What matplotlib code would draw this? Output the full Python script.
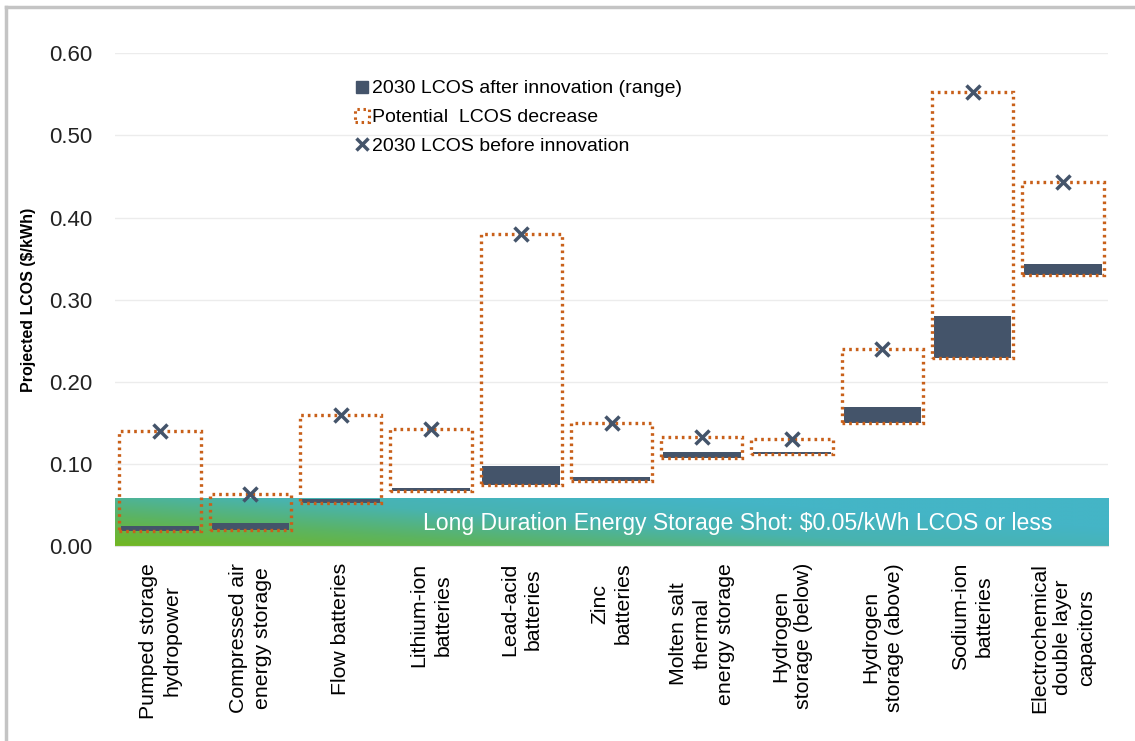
#!/usr/bin/env python3
"""Projected 2030 LCOS by storage technology, before and after innovation."""

import matplotlib
matplotlib.use("Agg")
import matplotlib.pyplot as plt
import matplotlib.patches as mpatches
import matplotlib.transforms as mtransforms
from matplotlib.colors import LinearSegmentedColormap
from matplotlib.lines import Line2D
import numpy as np

plt.rcParams["font.family"] = ["Liberation Sans", "DejaVu Sans"]

categories = [
    "Pumped storage\nhydropower",
    "Compressed air\nenergy storage",
    "Flow batteries",
    "Lithium-ion\nbatteries",
    "Lead-acid\nbatteries",
    "Zinc\nbatteries",
    "Molten salt\nthermal\nenergy storage",
    "Hydrogen\nstorage (below)",
    "Hydrogen\nstorage (above)",
    "Sodium-ion\nbatteries",
    "Electrochemical\ndouble layer\ncapacitors",
]
lcos_before = [0.140, 0.064, 0.160, 0.143, 0.380, 0.150, 0.133, 0.130, 0.240, 0.553, 0.443]
lcos_after_low = [0.018, 0.020, 0.053, 0.067, 0.075, 0.079, 0.107, 0.112, 0.150, 0.229, 0.330]
lcos_after_high = [0.024, 0.028, 0.057, 0.071, 0.097, 0.084, 0.115, 0.115, 0.170, 0.280, 0.343]
shot_band_top = 0.058
shot_label = "Long Duration Energy Storage Shot: $0.05/kWh LCOS or less"
yticks = [0.0, 0.1, 0.2, 0.3, 0.4, 0.5, 0.6]

DARK = "#44546a"
ORANGE = "#c8601a"
DOTTED = (0, (0.8, 1.2))

fig = plt.figure(figsize=(11.35, 7.41), dpi=100)
ax = fig.add_axes([0.1013, 0.263, 0.875, 0.665])

x = np.arange(len(categories))
ax.set_xlim(-0.5, len(categories) - 0.5)
ax.set_ylim(0, 0.6)

# green/teal target band with diagonal gradient
xn, yn = np.meshgrid(np.linspace(0, 1, 300), np.linspace(0, 1, 60))
grad = np.clip(0.8 * xn + 0.55 * yn, 0, 1)
cmap = LinearSegmentedColormap.from_list("shot", ["#72b722", "#5cb460", "#48b3b0", "#44b5c6"])
ax.imshow(grad, cmap=cmap, origin="lower", aspect="auto", zorder=1,
          extent=(-0.5, len(categories) - 0.5, 0, shot_band_top))
band_trans = mtransforms.blended_transform_factory(ax.transAxes, ax.transData)
ax.text(0.627, 0.028, shot_label, transform=band_trans, color="white",
        fontsize=16.6, ha="center", va="center", zorder=5)

heights = [b - lo for b, lo in zip(lcos_before, lcos_after_low)]
ax.bar(x, heights, bottom=lcos_after_low, width=0.9, facecolor="none",
       edgecolor=ORANGE, linestyle=DOTTED, linewidth=2.4, zorder=3)
ranges = [hi - lo for hi, lo in zip(lcos_after_high, lcos_after_low)]
ax.bar(x, ranges, bottom=lcos_after_low, width=0.86, color=DARK, zorder=2)
ax.plot(x, lcos_before, linestyle="none", marker="x", markersize=10,
        markeredgewidth=2.5, color=DARK, zorder=4)

ax.set_yticks(yticks)
ax.set_yticklabels([f"{v:.2f}" for v in yticks], fontsize=16, color="#222222")
ax.set_xticks(x)
ax.set_xticklabels(categories, rotation=90, fontsize=15.3, multialignment="center",
                   linespacing=1.3)
ax.tick_params(axis="both", length=0)
ax.tick_params(axis="y", pad=16)
ax.tick_params(axis="x", pad=12)
ax.grid(axis="y", color="#ececec", linewidth=1, zorder=0)
ax.set_axisbelow(True)
for side in ["top", "right", "left"]:
    ax.spines[side].set_visible(False)
ax.spines["bottom"].set_color("#e0e0e0")

fig.text(0.025, 0.595, "Projected LCOS ($/kWh)", rotation=90, fontsize=11.5,
         fontweight="bold", ha="center", va="center")

handles = [
    Line2D([], [], linestyle="none", marker="s", markersize=8, color=DARK),
    mpatches.Patch(facecolor="none", edgecolor=ORANGE, linestyle=DOTTED, linewidth=2.2),
    Line2D([], [], linestyle="none", marker="x", markersize=9, markeredgewidth=2.5, color=DARK),
]
labels = ["2030 LCOS after innovation (range)", "Potential  LCOS decrease",
          "2030 LCOS before innovation"]
ax.legend(handles, labels, loc="upper left", bbox_to_anchor=(0.234, 0.962),
          frameon=False, fontsize=14, handlelength=0.7, handleheight=0.7,
          handletextpad=0.15, labelspacing=0.58, borderaxespad=0)

# grey frame lines along the top and left edges of the figure
fig.add_artist(Line2D([0.0053, 1.0], [0.9906, 0.9906], color="#c4c4c4", linewidth=2.5))
fig.add_artist(Line2D([0.0053, 0.0053], [0.0, 0.9906], color="#c4c4c4", linewidth=2.5))

fig.savefig("out.png", dpi=100)
plt.close(fig)
